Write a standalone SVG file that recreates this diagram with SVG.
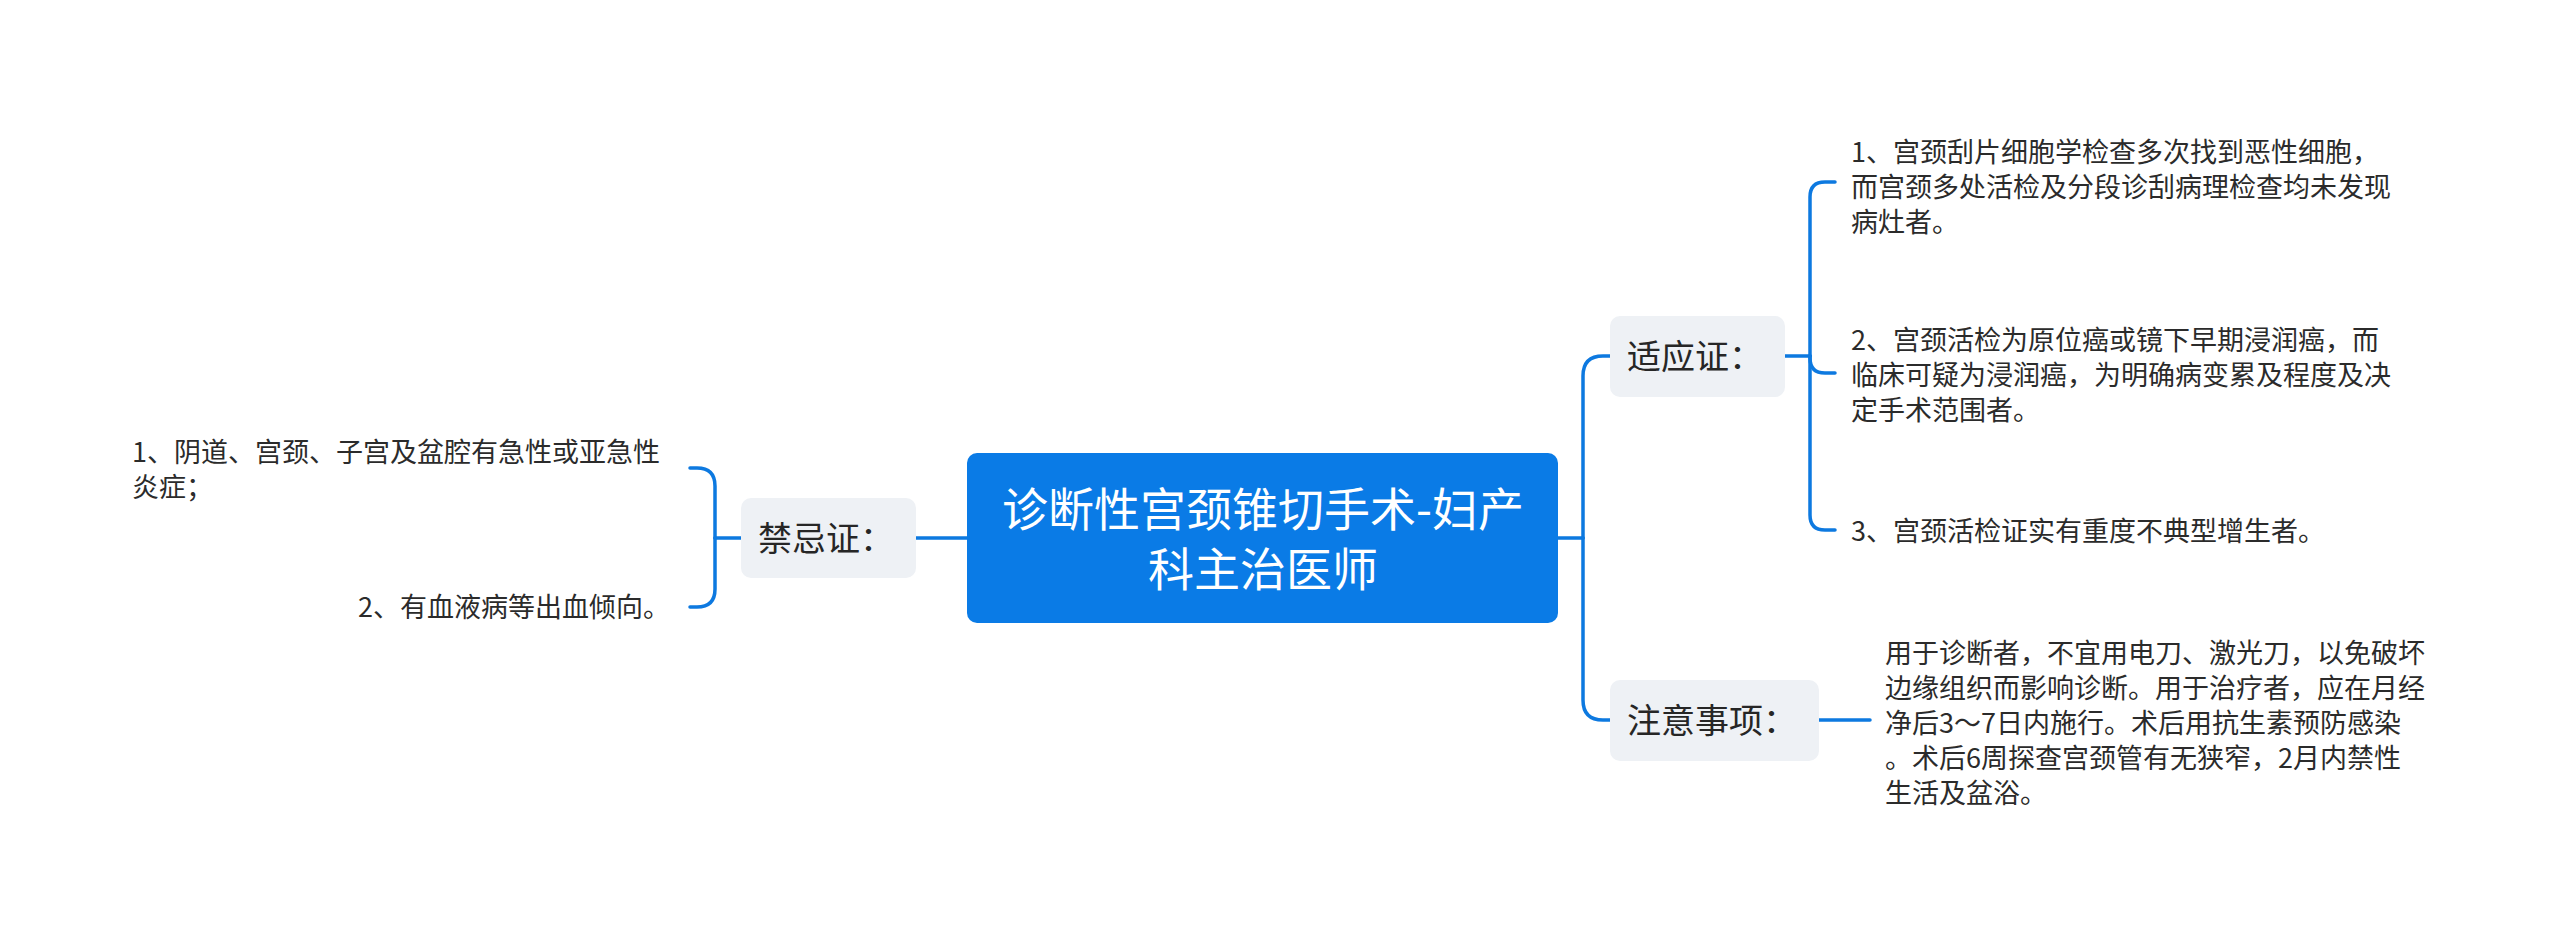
<svg xmlns="http://www.w3.org/2000/svg" width="2560" height="939" viewBox="0 0 2560 939">
<style>
.bg{fill:#ffffff}
.root{fill:#0a7be6}
.sub{fill:#eef1f5}
.c{fill:none;stroke:#0d79e0;stroke-width:3.5;stroke-linecap:round;stroke-linejoin:round}
text{font-family:"Noto Sans CJK SC","Noto Sans",sans-serif}
.rt{fill:#ffffff;font-size:46px}
.st{fill:#262626;font-size:34px}
.lt{fill:#2b2b2b;font-size:27px}
</style>
<rect class="bg" x="0" y="0" width="2560" height="939"/>
<g id="connectors">
<path class="c" d="M967,538 H916"/>
<path class="c" d="M741,538 H715"/>
<path class="c" d="M715,538 V486 Q715,468 697,468 H690"/>
<path class="c" d="M715,538 V589 Q715,607 697,607 H690"/>
<path class="c" d="M1557,538 H1583"/>
<path class="c" d="M1583,538 V376 Q1583,356 1603,356 H1611"/>
<path class="c" d="M1583,538 V700 Q1583,720 1603,720 H1611"/>
<path class="c" d="M1785,356 H1810"/>
<path class="c" d="M1810,356 V197 Q1810,182 1825,182 H1835"/>
<path class="c" d="M1810,356 V358 Q1810,373 1825,373 H1835"/>
<path class="c" d="M1810,356 V515 Q1810,530 1825,530 H1835"/>
<path class="c" d="M1819,720 H1870"/>
</g>
<g id="root">
<rect class="root" x="967" y="453" width="591" height="170" rx="10"/>
<text class="rt" text-anchor="middle" x="1263" y="526">诊断性宫颈锥切手术-妇产</text>
<text class="rt" text-anchor="middle" x="1263" y="586">科主治医师</text>
</g>
<g id="jinjizheng">
<rect class="sub" x="741" y="498" width="175" height="80" rx="10"/>
<text class="st" x="758" y="551">禁忌证：</text>
</g>
<g id="jinji-1">
<text class="lt"><tspan x="132" y="462">1、阴道、宫颈、子宫及盆腔有急性或亚急性</tspan><tspan x="132" y="497">炎症；</tspan></text>
</g>
<g id="jinji-2">
<text class="lt" x="670" y="617" text-anchor="end">2、有血液病等出血倾向。</text>
</g>
<g id="shiyingzheng">
<rect class="sub" x="1610" y="316" width="175" height="81" rx="10"/>
<text class="st" x="1627" y="369">适应证：</text>
</g>
<g id="shiying-1">
<text class="lt"><tspan x="1851" y="162">1、宫颈刮片细胞学检查多次找到恶性细胞，</tspan><tspan x="1851" y="197">而宫颈多处活检及分段诊刮病理检查均未发现</tspan><tspan x="1851" y="232">病灶者。</tspan></text>
</g>
<g id="shiying-2">
<text class="lt"><tspan x="1851" y="350">2、宫颈活检为原位癌或镜下早期浸润癌，而</tspan><tspan x="1851" y="385">临床可疑为浸润癌，为明确病变累及程度及决</tspan><tspan x="1851" y="420">定手术范围者。</tspan></text>
</g>
<g id="shiying-3">
<text class="lt" x="1851" y="541">3、宫颈活检证实有重度不典型增生者。</text>
</g>
<g id="zhuyi">
<rect class="sub" x="1610" y="680" width="209" height="81" rx="10"/>
<text class="st" x="1627" y="733">注意事项：</text>
</g>
<g id="zhuyi-1">
<text class="lt"><tspan x="1885" y="663">用于诊断者，不宜用电刀、激光刀，以免破坏</tspan><tspan x="1885" y="698">边缘组织而影响诊断。用于治疗者，应在月经</tspan><tspan x="1885" y="733">净后3～7日内施行。术后用抗生素预防感染</tspan><tspan x="1885" y="768">。术后6周探查宫颈管有无狭窄，2月内禁性</tspan><tspan x="1885" y="803">生活及盆浴。</tspan></text>
</g>
</svg>
